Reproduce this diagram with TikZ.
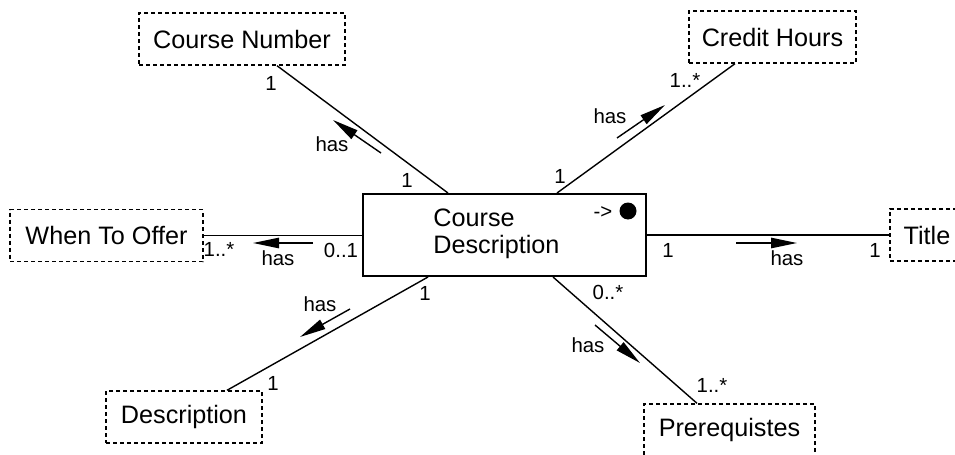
\documentclass[tikz,border=0pt]{standalone}
\usepackage{fontspec}
\setmainfont{Liberation Sans}
\usetikzlibrary{arrows.meta}
\newcommand{\bigtext}{\fontsize{12.6}{13.6}\selectfont}
\newcommand{\smalltext}{\fontsize{10.2}{12}\selectfont}
\tikzset{cls/.style={draw, line width=1pt, minimum width=141.5pt, minimum height=41pt}}
\tikzset{attr/.style={draw, dash pattern=on 2pt off 1.5pt, line width=0.7pt, font=\bigtext, minimum height=26pt}}
\tikzset{link/.style={line width=0.7pt}}
\tikzset{mult/.style={font=\smalltext, inner sep=0pt}}
\tikzset{hasarrow/.style={-{Triangle[length=13pt,width=5.2pt]}, line width=0.7pt}}

\begin{document}
\begin{tikzpicture}[x=0.5pt, y=-0.5pt]
\useasboundingbox (0,0) rectangle (955,455);
% class box
\node[cls] (main) at (504.5,235) {};
\node[font=\bigtext, align=left, anchor=west, inner sep=0pt] (mainname) at (433,234) {Course\\Description};
\node[mult] (ptr) at (603,213) {->};
\node[circle, fill, inner sep=0pt, minimum size=8.5pt] (dot) at (628,211) {};
% attributes
\node[attr, minimum width=103pt] (cnum) at (242,39) {Course Number};
\node[attr, minimum width=83.5pt] (credit) at (772.5,37) {Credit Hours};
\node[attr, minimum width=96.5pt] (offer) at (106.5,235.5) {When To Offer};
\node[attr, minimum width=37pt] (title) at (927,235) {Title};
\node[attr, minimum width=78pt] (desc) at (184,417) {Description};
\node[attr, minimum width=85.5pt] (prereq) at (729.5,430) {Prerequistes};
% links
\draw[link] ([xshift=17.5pt]cnum.south) -- ([xshift=-28.25pt]main.north);
\draw[link] ([xshift=-18.75pt]credit.south) -- ([xshift=26.25pt]main.north);
\draw[link] (offer.east) -- (offer.east -| main.west);
\draw[link] (main.east) -- (main.east -| title.west);
\draw[link] ([xshift=21.5pt]desc.north) -- ([xshift=-38.25pt]main.south);
\draw[link] ([xshift=-16.25pt]prereq.north) -- ([xshift=24.25pt]main.south);
% multiplicities
\node[mult] (cnumM1) at (271,83) {1};
\node[mult] (cnumM2) at (407,180) {1};
\node[mult] (creditM1) at (685,80) {1..*};
\node[mult] (creditM2) at (560,176) {1};
\node[mult] (offerM1) at (219,249) {1..*};
\node[mult] (offerM2) at (341,250) {0..1};
\node[mult] (titleM1) at (668,250) {1};
\node[mult] (titleM2) at (875,250) {1};
\node[mult] (descM1) at (425,293) {1};
\node[mult] (descM2) at (273,383) {1};
\node[mult] (prereqM1) at (608,292) {0..*};
\node[mult] (prereqM2) at (712,385) {1..*};
% has arrows
\node[mult] (cnumHas) at (332,144) {has};
\coordinate (cnumA) at (381,153); \coordinate (cnumB) at (333,120);
\draw[hasarrow] (cnumA) -- (cnumB);
\node[mult] (creditHas) at (610,116) {has};
\coordinate (creditA) at (617,138); \coordinate (creditB) at (665,105);
\draw[hasarrow] (creditA) -- (creditB);
\node[mult] (offerHas) at (278,258) {has};
\coordinate (offerA) at (313,243); \coordinate (offerB) at (253,243);
\draw[hasarrow] (offerA) -- (offerB);
\node[mult] (titleHas) at (787,258) {has};
\coordinate (titleA) at (736,243); \coordinate (titleB) at (797,243);
\draw[hasarrow] (titleA) -- (titleB);
\node[mult] (descHas) at (320,304) {has};
\coordinate (descA) at (350,309); \coordinate (descB) at (300,337);
\draw[hasarrow] (descA) -- (descB);
\node[mult] (prereqHas) at (588,345) {has};
\coordinate (prereqA) at (595,325); \coordinate (prereqB) at (640,363);
\draw[hasarrow] (prereqA) -- (prereqB);
\end{tikzpicture}
\end{document}
